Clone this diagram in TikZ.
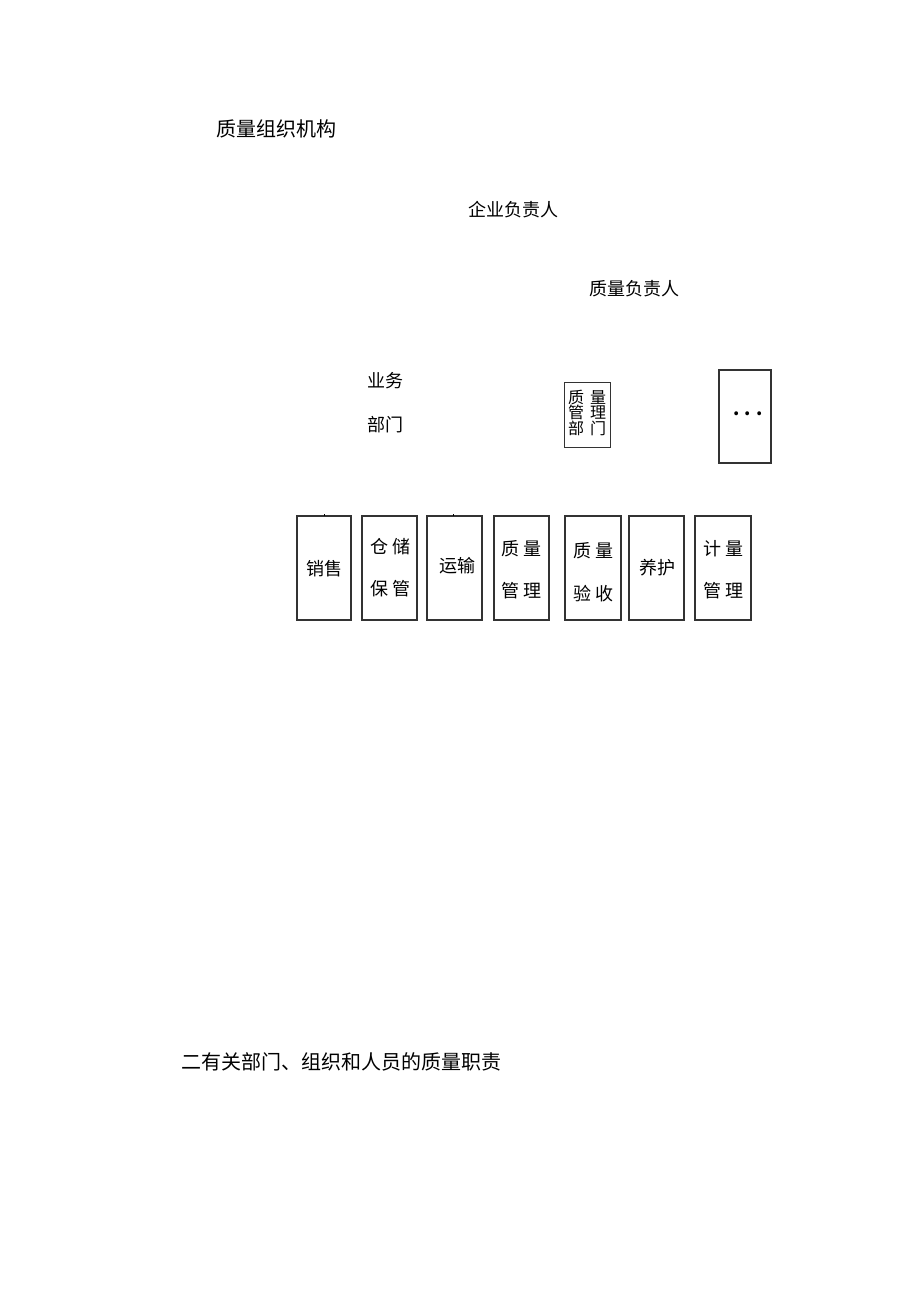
\documentclass[tikz,border=0pt]{standalone}
\usepackage{fontspec}
\setmainfont{Noto Sans CJK SC}
\begin{document}
\begin{tikzpicture}[x=1pt,y=-1pt,
  box/.style={draw=black!80,line width=1.1pt,inner sep=0pt},
  lbl/.style={inner sep=0pt,font=\fontsize{18}{18}\selectfont},
  cell/.style={inner sep=0pt,font=\fontsize{18}{18}\selectfont}]
\useasboundingbox (0,0) rectangle (920,1301);
% title texts
\node[lbl,anchor=west,font=\fontsize{20}{20}\selectfont] (title) at (216,129) {质量组织机构};
\node[lbl] (ceo) at (513,210) {企业负责人};
\node[lbl] (qhead) at (634,289) {质量负责人};
\node[lbl] (biz1) at (385,381) {业务};
\node[lbl] (biz2) at (385,425) {部门};
% quality management dept box
\draw[box,line width=0.8pt] (564,382) rectangle (610,447);
\node[inner sep=0pt,font=\fontsize{16}{16}\selectfont] (qm) at (587,414.5) {\begin{tabular}{@{}c@{\hspace{6pt}}c@{}}质&量\\[-3pt]管&理\\[-3pt]部&门\end{tabular}};
% dots box
\draw[box] (719,370) rectangle (771,463);
\node[inner sep=0pt,font=\fontsize{18}{18}\selectfont\bfseries] (dots) at (748,414) {.\hspace{5pt}.\hspace{5pt}.};
% bottom boxes
\draw[box] (297,516) rectangle (351,620);
\node[cell] (sale) at (324,569) {销售};
\draw[box] (362,516) rectangle (417,620);
\node[cell] (store1) at (390,547) {仓\hspace{4pt}储};
\node[cell] (store2) at (390,589) {保\hspace{4pt}管};
\draw[box] (427,516) rectangle (482,620);
\node[cell] (trans) at (457,566) {运输};
\draw[box] (494,516) rectangle (549,620);
\node[cell] (qm1) at (521,549) {质\hspace{4pt}量};
\node[cell] (qm2) at (521,591) {管\hspace{4pt}理};
\draw[box] (565,516) rectangle (621,620);
\node[cell] (qa1) at (593,551) {质\hspace{4pt}量};
\node[cell] (qa2) at (593,594) {验\hspace{4pt}收};
\draw[box] (629,516) rectangle (684,620);
\node[cell] (care) at (657,568) {养护};
\draw[box] (695,516) rectangle (751,620);
\node[cell] (me1) at (723,549) {计\hspace{4pt}量};
\node[cell] (me2) at (723,591) {管\hspace{4pt}理};
% tiny stubs
\draw[line width=1pt] (324,514) -- (324,516);
\draw[line width=1pt] (453,514) -- (453,516);
% section heading
\node[lbl,anchor=west,font=\fontsize{20}{20}\selectfont] (sec) at (181,1062) {二有关部门、组织和人员的质量职责};
\end{tikzpicture}
\end{document}
